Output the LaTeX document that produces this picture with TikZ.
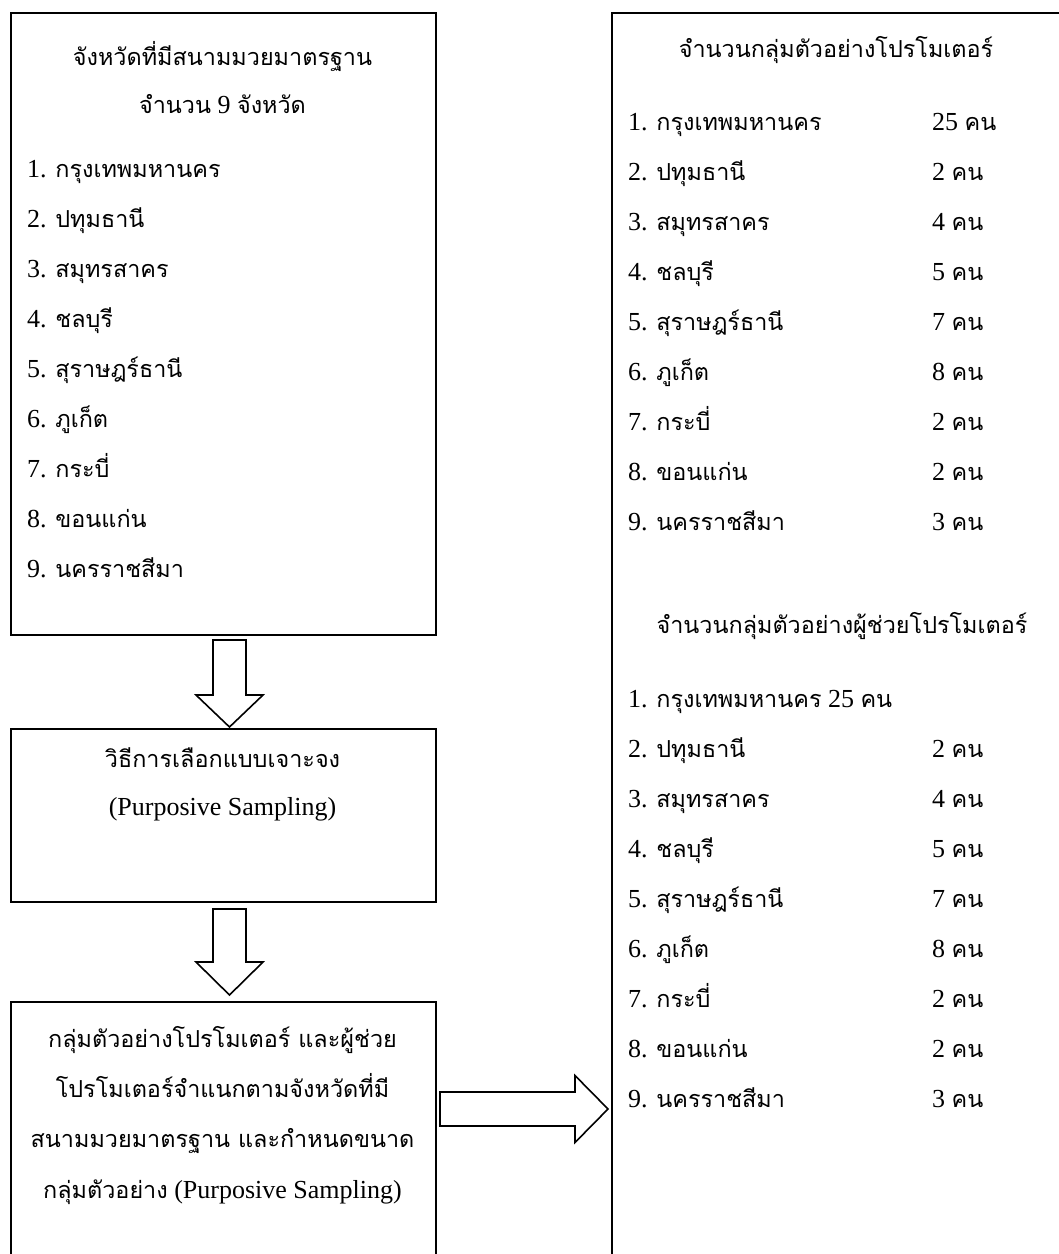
\documentclass[tikz,border=0pt]{standalone}
\usepackage{fontspec}
\setmainfont{Liberation Serif}
\newfontfamily\thai[Script=Thai,Scale=0.9]{Loma}
\usetikzlibrary{calc}
\newcommand\T[1]{{\thai #1}}
\tikzset{
  box/.style={draw, line width=2pt, rectangle, inner sep=0pt, anchor=north west},
  lline/.style={inner sep=0pt, anchor=base west},
  cline/.style={inner sep=0pt, anchor=base},
  blockarrow/.style={draw, line width=1.6pt, fill=white, line join=miter},
}
\begin{document}
\begin{tikzpicture}[x=1pt, y=-1pt, font=\fontsize{26pt}{30pt}\selectfont]
\useasboundingbox (0,0) rectangle (1059,1254);
\clip (0,0) rectangle (1059,1254);
\fill[white] (0,0) rectangle (1059,1254);

% boxes
\node[box, minimum width=425pt, minimum height=622pt] (b1) at (10,12) {};
\node[box, minimum width=425pt, minimum height=173pt] (b2) at (10,728) {};
\node[box, minimum width=425pt, minimum height=299pt] (b3) at (10,1001) {};
\node[box, minimum width=489pt, minimum height=1288pt] (b4) at (611,12) {};

% provinces with standard boxing stadiums
\node[cline] (t1a) at (222.5,65) {\T{จังหวัดที่มีสนามมวยมาตรฐาน}};
\node[cline] (t1b) at (222.5,113) {\T{จำนวน} 9 \T{จังหวัด}};
\foreach \n/\name [count=\i from 0] in {1/กรุงเทพมหานคร, 2/ปทุมธานี, 3/สมุทรสาคร, 4/ชลบุรี, 5/สุราษฎร์ธานี, 6/ภูเก็ต, 7/กระบี่, 8/ขอนแก่น, 9/นครราชสีมา}
  \node[lline] (p\n) at (27,177+50*\i) {\n. \T{\name}};

% selection method
\node[cline] (t2a) at (222.5,767) {\T{วิธีการเลือกแบบเจาะจง}};
\node[cline] (t2b) at (222.5,815) {(Purposive Sampling)};

% sample description
\node[cline] (t3a) at (222.5,1047) {\T{กลุ่มตัวอย่างโปรโมเตอร์ และผู้ช่วย}};
\node[cline] (t3b) at (222.5,1097) {\T{โปรโมเตอร์จำแนกตามจังหวัดที่มี}};
\node[cline] (t3c) at (222.5,1147) {\T{สนามมวยมาตรฐาน และกำหนดขนาด}};
\node[cline] (t3d) at (222.5,1198) {\T{กลุ่มตัวอย่าง} (Purposive Sampling)};

% promoters per province
\node[cline] (t4a) at (836,57) {\T{จำนวนกลุ่มตัวอย่างโปรโมเตอร์}};
\foreach \n/\name/\k [count=\i from 0] in {1/กรุงเทพมหานคร/25, 2/ปทุมธานี/2, 3/สมุทรสาคร/4, 4/ชลบุรี/5, 5/สุราษฎร์ธานี/7, 6/ภูเก็ต/8, 7/กระบี่/2, 8/ขอนแก่น/2, 9/นครราชสีมา/3} {
  \node[lline] (q\n) at (628,130+50*\i) {\n. \T{\name}};
  \node[lline] (qk\n) at (932,130+50*\i) {\k\ \T{คน}};
}

% assistant promoters per province
\node[cline] (t4b) at (842,633) {\T{จำนวนกลุ่มตัวอย่างผู้ช่วยโปรโมเตอร์}};
\node[lline] (r1) at (628,707) {1. \T{กรุงเทพมหานคร} 25 \T{คน}};
\foreach \n/\name/\k [count=\i from 1] in {2/ปทุมธานี/2, 3/สมุทรสาคร/4, 4/ชลบุรี/5, 5/สุราษฎร์ธานี/7, 6/ภูเก็ต/8, 7/กระบี่/2, 8/ขอนแก่น/2, 9/นครราชสีมา/3} {
  \node[lline] (r\n) at (628,707+50*\i) {\n. \T{\name}};
  \node[lline] (rk\n) at (932,707+50*\i) {\k\ \T{คน}};
}

% block arrows between the boxes
\coordinate (a1s) at ($(b1.south)+(6,4)$);
\coordinate (a1e) at ($(b2.north)+(6,-1)$);
\coordinate (a2s) at ($(b2.south)+(6,6)$);
\coordinate (a2e) at ($(b3.north)+(6,-6)$);
\coordinate (a3s) at ($(b3.north east)+(3,108)$);
\coordinate (a3e) at ($(a3s -| b4.west)+(-3,0)$);

\draw[blockarrow] let \p1=(a1s), \p2=(a1e) in
  (\x1-16.5pt,\y1) -- (\x1+16.5pt,\y1) -- (\x1+16.5pt,\y2+32pt) -- (\x1+33.5pt,\y2+32pt)
  -- (\x2,\y2) -- (\x1-33.5pt,\y2+32pt) -- (\x1-16.5pt,\y2+32pt) -- cycle;
\draw[blockarrow] let \p1=(a2s), \p2=(a2e) in
  (\x1-16.5pt,\y1) -- (\x1+16.5pt,\y1) -- (\x1+16.5pt,\y2+33pt) -- (\x1+33.5pt,\y2+33pt)
  -- (\x2,\y2) -- (\x1-33.5pt,\y2+33pt) -- (\x1-16.5pt,\y2+33pt) -- cycle;
\draw[blockarrow] let \p1=(a3s), \p2=(a3e) in
  (\x1,\y1+17pt) -- (\x2-33pt,\y1+17pt) -- (\x2-33pt,\y1+33.5pt) -- (\x2,\y2)
  -- (\x2-33pt,\y1-33.5pt) -- (\x2-33pt,\y1-17pt) -- (\x1,\y1-17pt) -- cycle;
\end{tikzpicture}
\end{document}
